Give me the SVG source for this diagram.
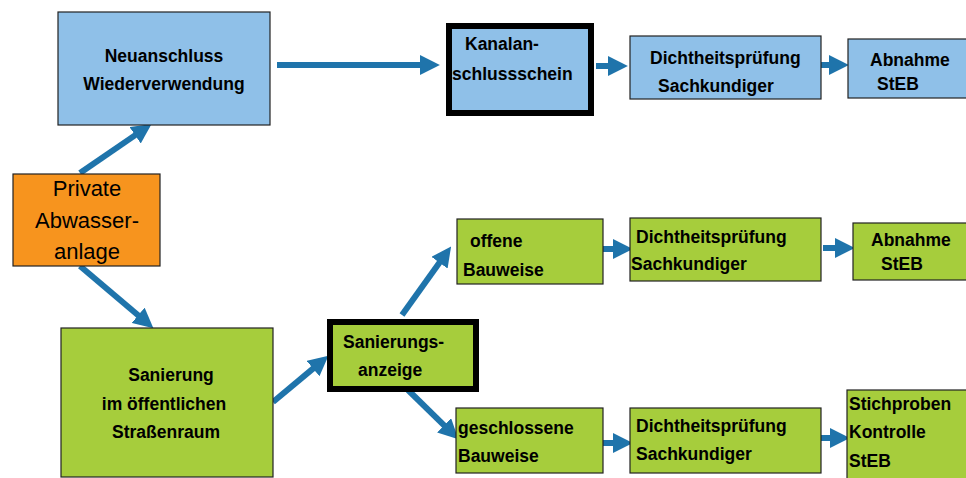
<svg xmlns="http://www.w3.org/2000/svg" width="966" height="478" viewBox="0 0 966 478">
<style>
.blue{fill:#8FC0E8;stroke:#222;stroke-width:1.2}
.green{fill:#A6CD3C;stroke:#222;stroke-width:1.2}
.orange{fill:#F7941E;stroke:#222;stroke-width:1.2}
.thick{stroke:#000;stroke-width:6}
text{font-family:"Liberation Sans",Arial,sans-serif;fill:#000}
.b{font-size:17.5px;font-weight:bold}
.r{font-size:22px}
.c{text-anchor:middle}
.arr{fill:none;stroke:#1F74AB;stroke-width:6;marker-end:url(#ah)}
</style>
<defs>
<marker id="ah" markerUnits="userSpaceOnUse" markerWidth="20" markerHeight="20" viewBox="0 0 18 18" refX="1" refY="9" orient="auto">
<path d="M0,0 L18,9 L0,18 z" fill="#1F74AB"/>
</marker>
</defs>
<rect width="966" height="478" fill="#fff"/>

<g id="connectors">
<path class="arr" d="M80,173 L136,134.6"/>
<path class="arr" d="M277,65 L421,65"/>
<path class="arr" d="M596,66 L609,66"/>
<path class="arr" d="M821,65 L830,65"/>
<path class="arr" d="M80,266 L139,316"/>
<path class="arr" d="M273,402 L313.9,367.9"/>
<path class="arr" d="M402,315 L440.1,261.8"/>
<path class="arr" d="M408,390 L444.9,426.1"/>
<path class="arr" d="M603,249 L614,249"/>
<path class="arr" d="M823,248 L836,248"/>
<path class="arr" d="M603,443 L614,443"/>
<path class="arr" d="M817,438 L831,438"/>
</g>

<g id="neuanschluss">
<rect class="blue" x="58" y="12" width="212" height="113"/>
<text class="b c" x="164" y="62">Neuanschluss</text>
<text class="b c" x="164" y="90">Wiederverwendung</text>
</g>

<g id="kanalanschlussschein">
<rect class="blue thick" x="449" y="26" width="142" height="87"/>
<text class="b" x="465" y="50">Kanalan-</text>
<text class="b" x="452" y="80">schlussschein</text>
</g>

<g id="dicht-top">
<rect class="blue" x="630" y="36" width="191" height="63"/>
<text class="b" x="650" y="64">Dichtheitsprüfung</text>
<text class="b" x="658" y="92">Sachkundiger</text>
</g>

<g id="abnahme-top">
<rect class="blue" x="848" y="39" width="125" height="59"/>
<text class="b" x="870" y="66">Abnahme</text>
<text class="b" x="877" y="90">StEB</text>
</g>

<g id="private">
<rect class="orange" x="13" y="174" width="147" height="92"/>
<text class="r c" x="87" y="196">Private</text>
<text class="r c" x="87" y="228">Abwasser-</text>
<text class="r c" x="87" y="259">anlage</text>
</g>

<g id="sanierung">
<rect class="green" x="61" y="328" width="212" height="149"/>
<text class="b c" x="171" y="381">Sanierung</text>
<text class="b c" x="164" y="410">im öffentlichen</text>
<text class="b c" x="166" y="438">Straßenraum</text>
</g>

<g id="sanierungsanzeige">
<rect class="green thick" x="330" y="322" width="146" height="67"/>
<text class="b" x="343" y="348">Sanierungs-</text>
<text class="b" x="358" y="376">anzeige</text>
</g>

<g id="offene">
<rect class="green" x="457" y="219" width="146" height="65"/>
<text class="b" x="470" y="247">offene</text>
<text class="b" x="463" y="276">Bauweise</text>
</g>

<g id="geschlossene">
<rect class="green" x="456" y="408" width="147" height="65"/>
<text class="b" x="458" y="434">geschlossene</text>
<text class="b" x="458" y="462">Bauweise</text>
</g>

<g id="dicht-mid">
<rect class="green" x="630" y="218" width="191" height="63"/>
<text class="b" x="636" y="243">Dichtheitsprüfung</text>
<text class="b" x="631" y="270">Sachkundiger</text>
</g>

<g id="abnahme-mid">
<rect class="green" x="853" y="223" width="120" height="57"/>
<text class="b" x="871" y="246">Abnahme</text>
<text class="b" x="881" y="270">StEB</text>
</g>

<g id="dicht-bottom">
<rect class="green" x="630" y="408" width="191" height="65"/>
<text class="b" x="636" y="432">Dichtheitsprüfung</text>
<text class="b" x="636" y="460">Sachkundiger</text>
</g>

<g id="stichproben">
<rect class="green" x="847" y="390" width="126" height="90"/>
<text class="b" x="849" y="410">Stichproben</text>
<text class="b" x="849" y="438">Kontrolle</text>
<text class="b" x="849" y="467">StEB</text>
</g>
</svg>
